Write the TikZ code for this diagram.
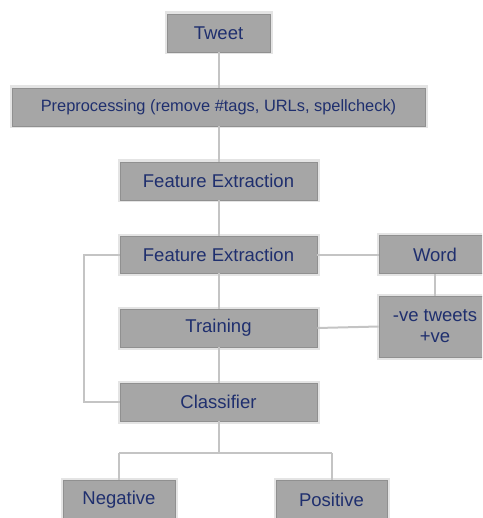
\documentclass[tikz,border=0pt]{standalone}
\usepackage{fontspec}
\setmainfont{Liberation Sans}
\definecolor{boxfill}{HTML}{A6A6A6}
\definecolor{boxline}{HTML}{909090}
\definecolor{txt}{HTML}{1F2F6E}
\definecolor{conn}{HTML}{C4C4C4}
\definecolor{shade}{HTML}{E4E4E4}
\begin{document}
\begin{tikzpicture}[x=1pt,y=-1pt,
  box/.style={draw=boxline, line width=0.8pt, fill=boxfill, text=txt, font=\fontsize{18.5}{21}\selectfont,
    inner sep=0pt, align=center, preaction={draw=shade, line width=5pt}},
  link/.style={draw=conn, line width=2pt}]
\useasboundingbox (0,0) rectangle (482,518);
\clip (0,0) rectangle (482,518);
\node[box, minimum width=103pt, minimum height=38pt] (tweet) at (218.5,33) {Tweet};
\node[box, minimum width=413pt, minimum height=38pt, font=\fontsize{16.4}{19}\selectfont] (prep) at (218.5,107) {Preprocessing (remove \#tags, URLs, spellcheck)};
\node[box, minimum width=197pt, minimum height=38pt] (fe1) at (218.5,181) {Feature Extraction};
\node[box, minimum width=197pt, minimum height=37pt] (fe2) at (218.5,254.5) {Feature Extraction};
\node[box, minimum width=197pt, minimum height=38pt] (train) at (218.5,328) {Training};
\node[box, minimum width=197pt, minimum height=38pt] (cls) at (218.5,402) {Classifier};
\node[box, minimum width=112pt, minimum height=38pt] (word) at (435,254.5) {Word};
\node[box, minimum width=112pt, minimum height=61pt] (ve) at (435,326.5) {-ve tweets\\+ve};
\node[box, minimum width=112pt, minimum height=40pt] (neg) at (119,500) {Negative};
\node[box, minimum width=111pt, minimum height=40pt] (pos) at (331.5,500) {Positive};
\coordinate (l1) at (84,254.5);
\coordinate (l2) at (84,402);
\coordinate (br) at (218.5,453);
\coordinate (bl) at (119,453);
\coordinate (bp) at (331.5,453);
\draw[link] (tweet.south) -- (prep.north);
\draw[link] (prep.south) -- (fe1.north);
\draw[link] (fe1.south) -- (fe2.north);
\draw[link] (fe2.south) -- (train.north);
\draw[link] (train.south) -- (cls.north);
\draw[link] (fe2.east) -- (word.west);
\draw[link] (word.south) -- (ve.north);
\draw[link] (train.east) -- (ve.west);
\draw[link] (fe2.west) -- (l1) -- (l2) -- (cls.west);
\draw[link] (cls.south) -- (br);
\draw[link] (bl) -- (bp);
\draw[link] (bl) -- (neg.north);
\draw[link] (bp) -- (pos.north);
\end{tikzpicture}
\end{document}
